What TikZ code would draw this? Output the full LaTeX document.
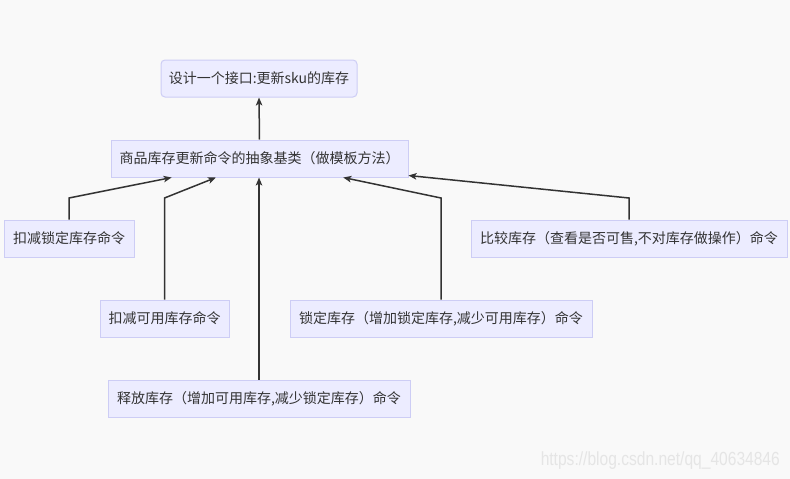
\documentclass[tikz,border=0pt]{standalone}
\usepackage{fontspec}
\setmainfont{Noto Sans CJK SC}
\newfontfamily\wmfont{Liberation Sans}
\usetikzlibrary{calc,arrows.meta}
\definecolor{boxfill}{HTML}{ECECFF}
\definecolor{boxline}{HTML}{CDCDF5}
\definecolor{linkcol}{HTML}{333333}
\definecolor{bgcol}{HTML}{F9F9F9}

\begin{document}
\begin{tikzpicture}[x=1pt,y=-1pt,
  cmdbox/.style={draw=boxline,fill=boxfill,line width=1pt,minimum height=37pt,
    inner sep=0pt,font=\fontsize{14}{16}\selectfont,text=linkcol},
  link/.style={draw=linkcol,line width=1.5pt,
    -{Stealth[length=8pt,width=6.5pt,inset=2pt]}}]
\fill[bgcol] (0,0) rectangle (790,479);
\useasboundingbox (0,0) rectangle (790,479);
% interface and base class
\node[cmdbox,rounded corners=4pt,minimum width=196pt] (iface) at (259,78.5) {设计一个接口:更新sku的库存};
\node[cmdbox,minimum width=297pt] (base) at (259.5,158.5) {商品库存更新命令的抽象基类（做模板方法）};
% concrete commands
\node[cmdbox,minimum width=130pt] (deductlock) at (69,238.5) {扣减锁定库存命令};
\node[cmdbox,minimum width=129pt] (deductavail) at (164.5,318.5) {扣减可用库存命令};
\node[cmdbox,minimum width=302pt] (release) at (259,398.5) {释放库存（增加可用库存,减少锁定库存）命令};
\node[cmdbox,minimum width=302pt] (lock) at (441,318.5) {锁定库存（增加锁定库存,减少可用库存）命令};
\node[cmdbox,minimum width=316pt] (compare) at (629,238.5) {比较库存（查看是否可售,不对库存做操作）命令};
\coordinate (elbow) at (0,198);
% links
\draw[link] (base.north) -- (iface.south);
\draw[link] (deductlock.north) -- (deductlock.north |- elbow) -- ($(base.south west)!0.205!(base.south east)$);
\draw[link] (deductavail.north) -- (deductavail.north |- elbow) -- ($(base.south west)!0.354!(base.south east)$);
\draw[link] (release.north) -- (release.north |- base.south);
\draw[link] (lock.north) -- (lock.north |- elbow) -- ($(base.south west)!0.781!(base.south east)$);
\draw[link] (compare.north) -- (compare.north |- elbow) -- ($(base.south east)+(0,-2)$);
% watermark
\node[anchor=east,text=black!10,font=\wmfont\fontsize{19}{21}\selectfont,xscale=0.82,inner sep=0pt] (mark) at (780,461) {https://blog.csdn.net/qq\_40634846};
\end{tikzpicture}
\end{document}
